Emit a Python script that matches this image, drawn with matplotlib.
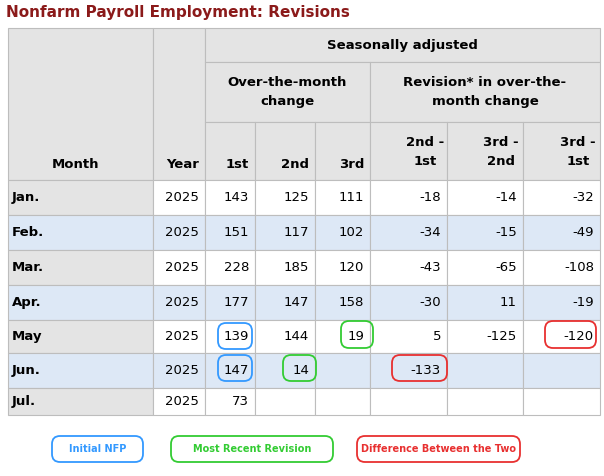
import matplotlib
matplotlib.use("Agg")
import matplotlib.pyplot as plt
from matplotlib.patches import Rectangle, FancyBboxPatch

months = ["Jan.", "Feb.", "Mar.", "Apr.", "May", "Jun.", "Jul."]
years = [2025] * 7
first = [143, 151, 228, 177, 139, 147, 73]
second = [125, 117, 185, 147, 144, 14, None]
third = [111, 102, 120, 158, 19, None, None]
rev_2_1 = [-18, -34, -43, -30, 5, -133, None]
rev_3_2 = [-14, -15, -65, 11, -125, None, None]
rev_3_1 = [-32, -49, -108, -19, -120, None, None]
legend_labels = ["Initial NFP", "Most Recent Revision", "Difference Between the Two"]

fig = plt.figure(figsize=(6.04, 4.76), dpi=100)
ax = fig.add_axes([0, 0, 1, 1])
ax.set_xlim(0, 604); ax.set_ylim(476, 0); ax.axis("off")

GRAY = "#e4e4e4"; BLUE = "#dde8f6"; LINE = "#bdbdbd"
xs = [8, 153, 205, 255, 315, 370, 447, 523, 600]
row_y = [180, 215, 250, 285, 320, 353, 388, 415]
FS = 9.5

ax.text(6, 12, "Nonfarm Payroll Employment: Revisions", color="#8b1a1a",
        fontsize=11, fontweight="bold", va="center", ha="left")

def cell(x0, y0, x1, y1, fc):
    ax.add_patch(Rectangle((x0, y0), x1 - x0, y1 - y0, fc=fc, ec=LINE, lw=0.8))

cell(xs[0], 28, xs[1], 180, GRAY)
cell(xs[1], 28, xs[2], 180, GRAY)
cell(xs[2], 28, xs[8], 62, GRAY)
cell(xs[2], 62, xs[5], 122, GRAY)
cell(xs[5], 62, xs[8], 122, GRAY)
for i in range(2, 8):
    cell(xs[i], 122, xs[i + 1], 180, GRAY)
ax.text(52, 165, "Month", fontsize=FS, fontweight="bold", va="center")
ax.text(199, 165, "Year", fontsize=FS, fontweight="bold", va="center", ha="right")
ax.text((xs[2] + xs[8]) / 2, 45, "Seasonally adjusted", fontsize=FS, fontweight="bold", ha="center", va="center")
ax.text((xs[2] + xs[5]) / 2, 92, "Over-the-month\nchange", fontsize=FS, fontweight="bold", ha="center", va="center", linespacing=1.6)
ax.text((xs[5] + xs[8]) / 2, 92, "Revision* in over-the-\nmonth change", fontsize=FS, fontweight="bold", ha="center", va="center", linespacing=1.6)
subs = ["1st", "2nd", "3rd", "2nd -\n1st", "3rd -\n2nd", "3rd -\n1st"]
for i, s in enumerate(subs):
    if "\n" in s:
        ax.text(xs[i + 3] - 22, 152, s, fontsize=FS, fontweight="bold", ha="center", va="center", linespacing=1.6)
    else:
        ax.text(xs[i + 3] - 6, 165, s, fontsize=FS, fontweight="bold", ha="right", va="center")

cols = [years, first, second, third, rev_2_1, rev_3_2, rev_3_1]
for r, m in enumerate(months):
    y0, y1 = row_y[r], row_y[r + 1]
    blue = r % 2 == 1
    cell(xs[0], y0, xs[1], y1, BLUE if blue else GRAY)
    ax.text(12, (y0 + y1) / 2, m, fontsize=FS, fontweight="bold", va="center")
    for c, vals in enumerate(cols):
        cell(xs[c + 1], y0, xs[c + 2], y1, BLUE if blue else "white")
        v = vals[r]
        if v is not None:
            ax.text(xs[c + 2] - 6, (y0 + y1) / 2, str(v), fontsize=FS, va="center", ha="right")

def ring(x0, x1, y0, y1, color):
    ax.add_patch(FancyBboxPatch((x0, y0), x1 - x0, y1 - y0,
                 boxstyle="round,pad=0,rounding_size=8", fc="none", ec=color, lw=1.3))

BL, GR, RD = "#3399ff", "#33cc33", "#e83030"
ring(218, 252, 323, 349, BL)
ring(218, 252, 355, 381, BL)
ring(341, 373, 321, 348, GR)
ring(283, 316, 355, 381, GR)
ring(545, 596, 321, 348, RD)
ring(392, 447, 355, 381, RD)

for (x0, x1, col), lab in zip([(52, 143, BL), (171, 333, GR), (357, 520, RD)], legend_labels):
    ring(x0, x1, 436, 462, col)
    ax.text((x0 + x1) / 2, 449, lab, color=col, fontsize=7, fontweight="bold", ha="center", va="center")

fig.savefig("out.png", dpi=100)
